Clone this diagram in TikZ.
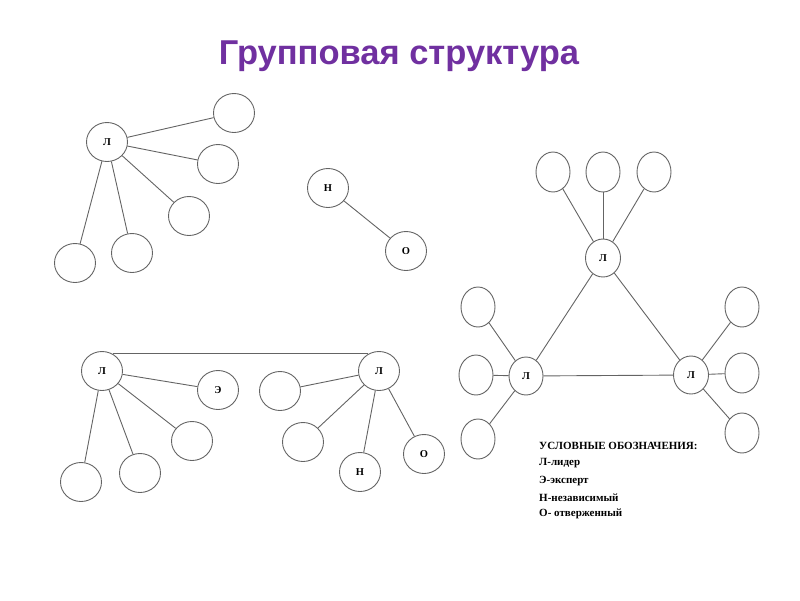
\documentclass[tikz,border=0pt]{standalone}
\usepackage{fontspec}
\setmainfont{Liberation Serif}
\newfontfamily\titlefont{Liberation Sans}
\usetikzlibrary{shapes.geometric}
\definecolor{titlepurple}{RGB}{112,48,160}
\definecolor{edgegray}{RGB}{100,100,100}
\tikzset{
  nd/.style={ellipse, draw=edgegray, line width=0.9pt, inner sep=0pt,
    minimum width=41pt, minimum height=39pt, font=\bfseries\fontsize{10.5}{10.5}\selectfont},
  sm/.style={ellipse, draw=edgegray, line width=0.9pt, inner sep=0pt,
    minimum width=34pt, minimum height=40pt, font=\bfseries\fontsize{10.5}{10.5}\selectfont},
  ln/.style={draw=edgegray, line width=0.9pt},
  legend/.style={anchor=west, inner sep=0pt, font=\bfseries\fontsize{11}{11}\selectfont}
}
\begin{document}
\begin{tikzpicture}[x=1pt,y=-1pt]
\useasboundingbox (0,0) rectangle (800,600);
\node[font=\titlefont\bfseries\fontsize{34.5}{38}\selectfont, text=titlepurple] (title) at (399,56) {Групповая структура};

% group 1
\node[nd] (a0) at (107,142) {Л};
\node[nd] (a1) at (234,113) {};
\node[nd] (a2) at (218,164) {};
\node[nd] (a3) at (189,216) {};
\node[nd] (a4) at (132,253) {};
\node[nd] (a5) at (75,263) {};
\foreach \i in {1,...,5} \draw[ln] (a0) -- (a\i);

% group 2
\node[nd] (h) at (328,188) {Н};
\node[nd] (o) at (406,251) {О};
\draw[ln] (h) -- (o);

% group 3
\node[nd] (b0) at (102,371) {Л};
\node[nd] (b1) at (218,390) {Э};
\node[nd] (b2) at (192,441) {};
\node[nd] (b3) at (140,473) {};
\node[nd] (b4) at (81,482) {};
\foreach \i in {1,...,4} \draw[ln] (b0) -- (b\i);
\node[nd] (c0) at (379,371) {Л};
\node[nd] (c1) at (280,391) {};
\node[nd] (c2) at (303,442) {};
\node[nd] (c3) at (360,472) {Н};
\node[nd] (c4) at (424,454) {О};
\foreach \i in {1,...,4} \draw[ln] (c0) -- (c\i);
\draw[ln] (b0.58) -- (c0.122);

% group 4
\node[sm, minimum width=35pt, minimum height=38pt] (t0) at (603,258) {Л};
\node[sm] (t1) at (553,172) {};
\node[sm] (t2) at (603,172) {};
\node[sm] (t3) at (654,172) {};
\foreach \i in {1,...,3} \draw[ln] (t0) -- (t\i);
\node[sm, minimum width=34pt, minimum height=38pt] (l0) at (526,376) {Л};
\node[sm] (l1) at (478,307) {};
\node[sm] (l2) at (476,375) {};
\node[sm] (l3) at (478,439) {};
\foreach \i in {1,...,3} \draw[ln] (l0) -- (l\i);
\node[sm, minimum width=35pt, minimum height=38pt] (r0) at (691,375) {Л};
\node[sm] (r1) at (742,307) {};
\node[sm] (r2) at (742,373) {};
\node[sm] (r3) at (742,433) {};
\foreach \i in {1,...,3} \draw[ln] (r0) -- (r\i);
\draw[ln] (t0) -- (l0);
\draw[ln] (t0) -- (r0);
\draw[ln] (l0) -- (r0);

% legend
\node[legend] (g1) at (539,446) {УСЛОВНЫЕ ОБОЗНАЧЕНИЯ:};
\node[legend] (g2) at (539,463) {Л-лидер};
\node[legend] (g3) at (539,481) {Э-эксперт};
\node[legend] (g4) at (539,498) {Н-независимый};
\node[legend] (g5) at (539,514) {О- отверженный};
\end{tikzpicture}
\end{document}
